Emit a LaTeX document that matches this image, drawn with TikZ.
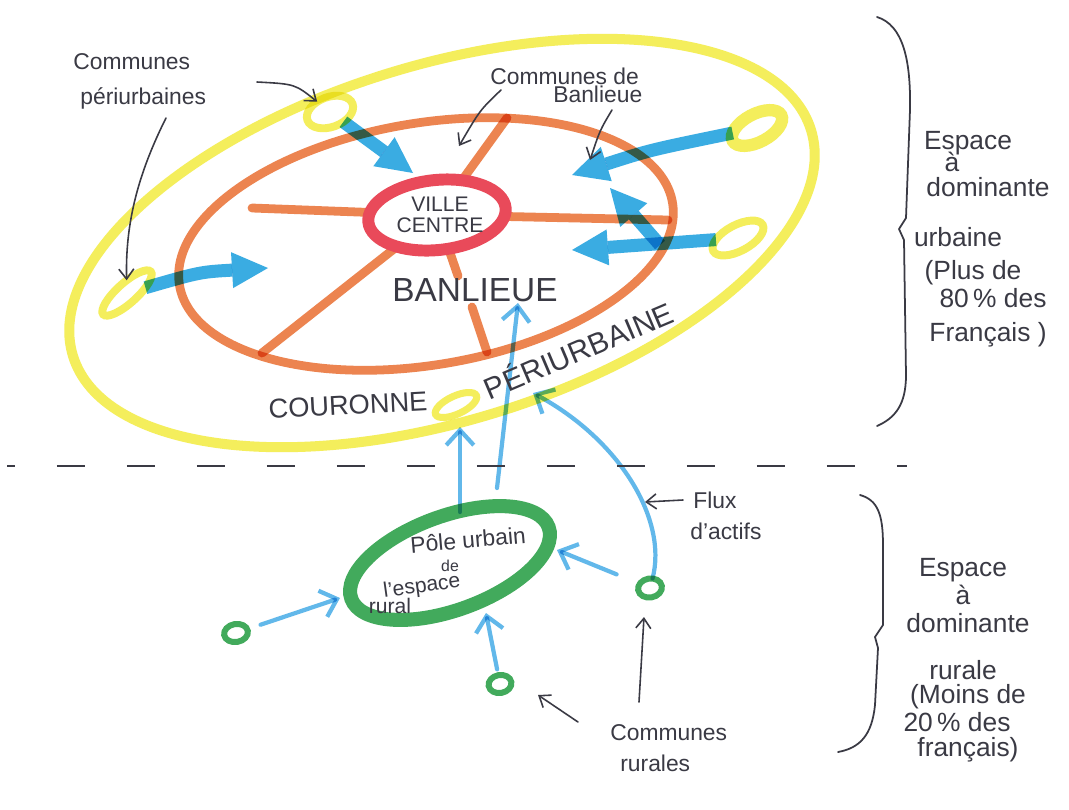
\documentclass[tikz,border=0pt]{standalone}
\usepackage{fontspec}
\setmainfont{Liberation Sans}
\usetikzlibrary{arrows.meta,shapes.geometric}
\definecolor{yel}{RGB}{244,238,92}
\definecolor{org}{RGB}{236,132,80}
\definecolor{rouge}{RGB}{233,74,90}
\definecolor{blu}{RGB}{58,172,226}
\definecolor{lblu}{RGB}{98,184,234}
\definecolor{grn}{RGB}{66,170,92}
\definecolor{ink}{RGB}{58,58,68}
\tikzset{
  ring/.style={draw, ellipse, inner sep=0pt, outer sep=0pt},
  spoke/.style={draw=org, line width=5pt, line cap=round},
  bigflow/.style={draw=blu, line width=7.4pt, line cap=butt, -{Triangle[line width=0pt,length=0.72cm,width=0.72cm]}},
  flow/.style={draw=lblu, line width=2.4pt, line cap=round, -{Straight Barb[length=0.3cm,width=0.55cm]}},
  note/.style={draw=ink, line width=0.9pt, line cap=round, -{Straight Barb[length=0.2cm,width=0.3cm]}},
  hand/.style={text=ink, font=\fontsize{13}{15}\selectfont, inner sep=0pt},
  side/.style={text=ink, font=\fontsize{15}{17}\selectfont, inner sep=0pt},
  caps/.style={text=ink, inner sep=0pt},
  brace/.style={draw=ink, line width=1pt, line cap=round, line join=round},
}
\begin{document}
\begin{tikzpicture}[x=0.02cm,y=-0.02cm]
\useasboundingbox (0,0) rectangle (1069,809);
\fill[white] (0,0) rectangle (1069,809);

% named points
\coordinate (vc) at (437,215);
\coordinate (aEnd) at (413,173);
\coordinate (bEnd) at (268,268);
\coordinate (cEnd) at (572,175);
\coordinate (dEnd) at (572,250);
\coordinate (eStart) at (660,245);
\coordinate (eEnd) at (610,188);
\coordinate (s1) at (507,118);
\coordinate (s2) at (252,208);
\coordinate (s3) at (668,220);
\coordinate (s4) at (262,353);
\coordinate (s5m) at (458,276);
\coordinate (s5n) at (472,307);
\coordinate (s5) at (487,352);
\coordinate (fStart) at (460,512);
\coordinate (fEnd) at (460,427);
\coordinate (gStart) at (497,488);
\coordinate (gEnd) at (518,303);
\coordinate (hEnd) at (533,393);
\coordinate (iEnd) at (557,550);
\coordinate (jEnd) at (340,598);
\coordinate (kEnd) at (486,613);

\begin{scope}[blend mode=multiply]
  \node[ring, draw=yel, line width=5.7pt, minimum width=15.44cm, minimum height=7.12cm, rotate=17] (aire) at (442,243) {};
  \node[ring, draw=org, line width=5pt, minimum width=10cm, minimum height=4.84cm, rotate=9.5] (banl) at (426,244) {};
  \draw[spoke] (vc) -- (s1);
  \draw[spoke] (vc) -- (s2);
  \draw[spoke] (vc) -- (s3);
  \draw[spoke] (vc) -- (s4);
  \draw[spoke] (vc) -- (s5m);
  \draw[spoke] (s5n) -- (s5);
  \node[ring, draw=yel, line width=4.5pt, minimum width=0.96cm, minimum height=0.6cm, rotate=20] (y1) at (330,112) {};
  \node[ring, draw=yel, line width=4.5pt, minimum width=1.28cm, minimum height=0.4cm, rotate=42] (y2) at (127,293) {};
  \node[ring, draw=yel, line width=7pt, minimum width=1.1cm, minimum height=0.56cm, rotate=28] (y3) at (757,128) {};
  \node[ring, draw=yel, line width=4.5pt, minimum width=1.12cm, minimum height=0.52cm, rotate=28] (y4) at (738,238) {};
  \node[ring, draw=yel, line width=4pt, minimum width=0.9cm, minimum height=0.36cm, rotate=25] (y5) at (456,405) {};
\end{scope}

% ville centre (covers the spoke ends)
\node[ring, draw=rouge, fill=white, line width=6.8pt, minimum width=2.76cm, minimum height=1.4cm, rotate=6] (ville) at (vc) {};

% thick flows
\begin{scope}[blend mode=multiply]
  \draw[bigflow] (y1) -- (aEnd);
  \draw[bigflow] (y2) .. controls (200,272) .. (bEnd);
  \draw[bigflow] (y3) .. controls (650,150) .. (cEnd);
  \draw[bigflow] (y4) -- (dEnd);
  \draw[bigflow] (eStart) -- (eEnd);
\end{scope}

\begin{scope}[blend mode=multiply]
  \node[ring, draw=grn, line width=8pt, minimum width=4.2cm, minimum height=1.88cm, rotate=20] (pole) at (450,563) {};
  \node[ring, draw=grn, line width=3.4pt, minimum width=0.48cm, minimum height=0.36cm, rotate=10] (g1) at (236,633) {};
  \node[ring, draw=grn, line width=3.4pt, minimum width=0.46cm, minimum height=0.36cm, rotate=10] (g2) at (500,684) {};
  \node[ring, draw=grn, line width=3.4pt, minimum width=0.48cm, minimum height=0.38cm, rotate=10] (g3) at (650,588) {};
  \draw[flow] (fStart) -- (fEnd);
  \draw[flow] (gStart) -- (gEnd);
  \draw[flow] (g3) .. controls (668,520) and (620,440) .. (hEnd);
  \draw[flow, shorten <=0.5cm] (g3) -- (iEnd);
  \draw[flow, shorten <=0.28cm] (g1) -- (jEnd);
  \draw[flow, shorten <=0.12cm] (g2) -- (kEnd);
\end{scope}

% separation line
\draw[ink, line width=1.2pt, dash pattern=on 0.56cm off 0.84cm, dash phase=0.4cm] (7,466) -- (907,466);

% braces
\draw[brace] (877,17) .. controls (903,25) and (911,60) .. (910,110) -- (906,218) -- (899,229) -- (904,240) -- (906,375) .. controls (906,405) and (895,418) .. (877,426);
\draw[brace] (860,495) .. controls (878,500) and (883,515) .. (883,545) -- (883,625) -- (875,637) -- (878,648) -- (875,705) .. controls (872,735) and (860,748) .. (838,752);

% labels in the diagram
\node[caps, font=\fontsize{12}{13}\selectfont] (villeA) at (440,204) {VILLE};
\node[caps, font=\fontsize{12}{13}\selectfont] (villeB) at (440,225) {CENTRE};
\node[caps, font=\fontsize{19}{21}\selectfont] (banlt) at (475,290) {BANLIEUE};
\node[caps, font=\fontsize{15.5}{17}\selectfont, rotate=3] (cour) at (348,405) {COURONNE};
\node[caps, font=\fontsize{17}{19}\selectfont, rotate=23] (perit) at (578,349) {PÉRIURBAINE};

\node[hand, rotate=5] (pol1) at (468,540) {Pôle urbain};
\node[hand, font=\fontsize{9}{10}\selectfont] (pol2) at (450,566) {de};
\node[hand, font=\fontsize{12}{13}\selectfont, rotate=8] (pol3) at (422,587) {l'espace};
\node[hand, font=\fontsize{12}{13}\selectfont] (pol4) at (390,606) {rural};

% annotations
\node[hand, anchor=west] (cpa) at (73,62) {Communes};
\node[hand, anchor=west] (cpb) at (80,98) {périurbaines};
\node[hand, anchor=west] (cba) at (490,76) {Communes de};
\node[hand, anchor=west] (cbb) at (553,94) {Banlieue};
\node[hand, anchor=west] (fla) at (693,500) {Flux};
\node[hand, anchor=west] (flb) at (690,531) {d'actifs};
\node[hand, anchor=west] (cra) at (610,733) {Communes};
\node[hand, anchor=west] (crb) at (620,763) {rurales};

\coordinate (p1s) at (257,82);
\coordinate (p2s) at (166,118);
\coordinate (b1s) at (501,90);
\coordinate (b1e) at (459,146);
\coordinate (b2s) at (612,110);
\coordinate (b2e) at (590,160);
\coordinate (fls) at (683,500);
\coordinate (fle) at (645,502);
\coordinate (r1s) at (578,722);
\coordinate (r1e) at (538,695);
\coordinate (r2s) at (639,702);
\coordinate (r2e) at (644,617);
\draw[note] (p1s) .. controls (295,84) .. (y1);
\draw[note] (p2s) .. controls (140,170) and (125,220) .. (y2);
\draw[note] (b1s) .. controls (480,110) .. (b1e);
\draw[note] (b2s) .. controls (600,130) .. (b2e);
\draw[note] (fls) -- (fle);
\draw[note] (r1s) -- (r1e);
\draw[note] (r2s) -- (r2e);

% side texts: urban space
\node[side] (u1) at (968,143) {Espace};
\node[side] (u2) at (952,162) {à};
\node[side] (u3) at (988,187) {dominante};
\node[side] (u4) at (958,237) {urbaine};
\node[side] (u5) at (973,273) {(Plus de};
\node[side] (u6) at (993,298) {80\,\% des};
\node[side] (u7) at (988,335) {Français )};
% side texts: rural space
\node[side] (r1) at (963,570) {Espace};
\node[side] (r2) at (963,595) {à};
\node[side] (r3) at (968,623) {dominante};
\node[side] (r4) at (963,670) {rurale};
\node[side] (r5) at (968,697) {(Moins de};
\node[side] (r6) at (957,722) {20\,\% des};
\node[side] (r7) at (968,750) {français)};
\end{tikzpicture}
\end{document}
